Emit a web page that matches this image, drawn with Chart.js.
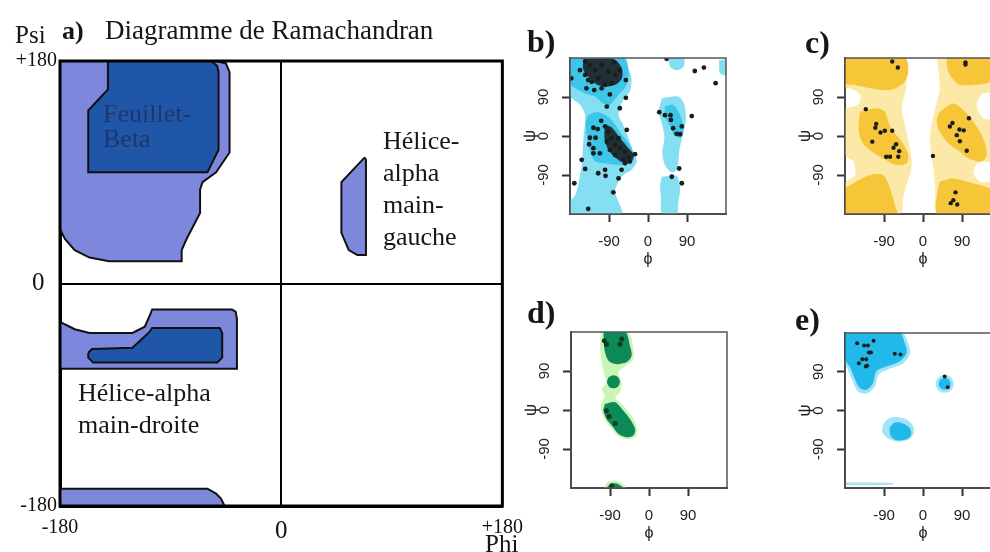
<!DOCTYPE html>
<html>
<head>
<meta charset="utf-8">
<script src="https://cdn.jsdelivr.net/npm/chart.js@4.4.1/dist/chart.umd.min.js"></script>
<style>
html,body{margin:0;padding:0;background:#fff;overflow:hidden;}
#page{position:relative;width:990px;height:552px;overflow:hidden;background:#fff;}
canvas{position:absolute;}
.t{position:absolute;font-family:"Liberation Serif","Times New Roman",serif;color:#161616;white-space:nowrap;line-height:1;}
</style>
</head>
<body>
<div id="page">
  <canvas id="cA" width="533" height="552" style="left:0;top:0"></canvas>
  <canvas id="cB" width="220" height="219" style="left:520px;top:50px"></canvas>
  <canvas id="cC" width="220" height="219" style="left:795px;top:50px"></canvas>
  <canvas id="cD" width="220" height="219" style="left:521px;top:324px"></canvas>
  <canvas id="cE" width="220" height="219" style="left:795px;top:324px"></canvas>

  <div class="t" style="left:15px;top:22px;font-size:25px">Psi</div>
  <div class="t" style="left:62px;top:18px;font-size:26px;font-weight:bold">a)</div>
  <div class="t" style="left:105px;top:17px;font-size:27px">Diagramme de Ramachandran</div>
  <div class="t" style="left:103px;top:101px;font-size:26px;color:#21366c;line-height:25px">Feuillet-<br>Beta</div>
  <div class="t" style="left:383px;top:125px;font-size:26px;line-height:32px">Hélice-<br>alpha<br>main-<br>gauche</div>
  <div class="t" style="left:78px;top:377px;font-size:26px;line-height:32px">Hélice-alpha<br>main-droite</div>
  <div class="t" style="left:485px;top:531px;font-size:25px">Phi</div>

  <div class="t" style="left:527px;top:25px;font-size:32px;font-weight:bold">b)</div>
  <div class="t" style="left:805px;top:26px;font-size:32px;font-weight:bold">c)</div>
  <div class="t" style="left:527px;top:296px;font-size:32px;font-weight:bold">d)</div>
  <div class="t" style="left:795px;top:303px;font-size:32px;font-weight:bold">e)</div>
</div>
<script>
// ---- data (phi, psi in degrees) ----
const phiTicks = [-180, 0, 180];
const psiTicks = [-180, 0, 180];
const smallTicks = [-90, 0, 90];

// a) schematic regions
const betaOuter = [[-180,180],[-53,180],[-45,178],[-42,171],[-42,106],[-53,90],[-64,82],[-66,76],[-66,57],[-77,36],[-81,27],[-81,18],[-140,18],[-156,21],[-168,27],[-176,36],[-180,44]];
const betaCore = [[-141,180],[-57,180],[-52,176],[-51,171],[-51,108],[-60,90],[-157,90],[-157,140],[-141,157]];
const betaBottom = [[-180,-166],[-60,-166],[-53,-170],[-49,-174],[-46,-180],[-180,-180]];
const alphaROuter = [[-180,-31],[-168,-37],[-156,-40],[-121,-40],[-111,-35],[-107,-26],[-105,-21],[-40,-21],[-37,-23],[-36,-29],[-36,-69],[-180,-69]];
const alphaRCore = [[-157,-56],[-154,-53],[-121,-52],[-107,-39],[-105,-36],[-50,-36],[-48,-40],[-48,-60],[-52,-64],[-153,-64],[-157,-60]];
const alphaLeft = [[68,102],[49,82],[49,41],[55,27],[62,23],[69,23],[69,100]];

// b) all residues
const bLightLeft = [[-180,180],[-53,180],[-45,156],[-38,133],[-42,102],[-57,83],[-65,64],[-68,48],[-57,25],[-45,-5],[-34,-36],[-26,-59],[-38,-78],[-57,-90],[-68,-105],[-76,-128],[-68,-152],[-61,-180],[-180,-180],[-180,-152],[-168,-136],[-161,-113],[-153,-67],[-149,-5],[-145,48],[-157,72],[-176,87],[-180,95]];
const bLightRight = [[32,87],[70,91],[84,72],[87,33],[79,-2],[72,-36],[68,-75],[55,-84],[39,-67],[33,-36],[38,-5],[33,25],[25,56]];
const bLightLow = [[32,-94],[66,-92],[74,-121],[70,-152],[66,-180],[33,-180],[30,-144],[28,-113]];
const bLightTop = [[47,180],[82,180],[82,160],[66,152],[51,160]];
const bLightEdge = [[164,175],[180,175],[180,141],[166,145]];
const bDarkTop = [[-180,180],[-57,180],[-45,148],[-49,118],[-68,95],[-88,72],[-103,75],[-122,91],[-145,98],[-168,110],[-180,122]];
const bDarkMid = [[-138,48],[-115,55],[-88,41],[-65,10],[-38,-28],[-34,-59],[-61,-67],[-99,-63],[-122,-58],[-134,-36],[-142,6],[-144,33]];
const bDarkRight = [[39,68],[58,72],[74,48],[82,18],[78,-2],[62,0],[51,22],[39,45]];
const bDenseTop = [[-148,178],[-82,178],[-62,160],[-60,134],[-76,118],[-100,114],[-120,120],[-138,136],[-150,155]];
const bDenseMid = [[-100,26],[-84,20],[-66,-3],[-47,-26],[-33,-44],[-40,-61],[-57,-61],[-75,-50],[-90,-34],[-100,-9]];
const bDots = [[-78,170],[-51,129],[-51,88],[-65,64],[-95,68],[-49,14],[-30,-42],[-88,96],[-124,106],[-142,110],[-177,133],
  [-108,35],[-126,19],[-116,16],[-134,-4],[-121,-4],[-136,-19],[-126,-28],[-111,-40],[-126,-40],[-153,-55],[-145,-76],
  [-115,-86],[-99,-78],[-98,-92],[-61,-78],[-68,-98],[-80,-130],[-170,-109],[-138,-168],[43,178],[108,150],[129,158],
  [156,122],[26,55],[52,48],[39,48],[101,46],[53,37],[78,22],[58,18],[74,4],[66,5],[72,-75],[55,-94],[78,-109],
  [-145,172],[-134,164],[-122,152],[-107,164],[-92,148],[-76,141],[-115,133],[-130,125],[-99,118],[-145,141],[-157,152],
  [-65,152],[-84,122],[-107,110],[-138,129],[-99,22],[-92,10],[-84,-5],[-76,-21],[-65,-28],[-53,-36],[-45,-48],[-57,-55],
  [-76,-44],[-88,-32],[-95,-13],[-68,-5],[-42,-59],[-53,-63]];

// c) glycine
const cLightLeft = [[-180,180],[-45,180],[-38,118],[-49,64],[-38,10],[-26,-67],[-45,-136],[-53,-180],[-180,-180],[-180,-109],[-157,-90],[-161,-59],[-180,-44],[-180,60],[-149,72],[-145,95],[-168,110],[-180,110]];
const cLightRight = [[32,180],[180,180],[180,102],[139,98],[124,72],[139,41],[180,33],[180,-59],[132,-59],[116,-82],[132,-105],[180,-109],[180,-180],[35,-180],[28,-121],[24,-75],[16,-5],[28,64],[39,110]];
const cDarkTopL = [[-180,180],[-42,180],[-34,148],[-45,122],[-76,106],[-122,110],[-161,118],[-180,122]];
const cDarkMidL = [[-145,56],[-107,64],[-88,56],[-76,22],[-49,-13],[-34,-44],[-38,-63],[-61,-67],[-92,-52],[-118,-36],[-141,-13],[-149,18]];
const cDarkLowL = [[-180,-121],[-161,-109],[-122,-90],[-92,-90],[-76,-121],[-65,-159],[-61,-180],[-180,-180]];
const cDarkTopR = [[55,180],[180,180],[180,141],[147,122],[116,118],[85,118],[62,141],[55,164]];
const cDarkMidR = [[39,56],[70,75],[93,60],[116,33],[139,-5],[147,-44],[135,-59],[105,-52],[85,-36],[55,-13],[35,18],[32,41]];
const cDarkLowR = [[39,-105],[70,-98],[116,-109],[155,-121],[180,-136],[180,-180],[35,-180],[32,-136]];
const cDots = [[-71,172],[-58,158],[-132,62],[-108,28],[-110,19],[-98,8],[-88,12],[-71,12],[-117,-13],[-62,-19],[-68,-27],
  [-55,-35],[-85,-48],[-76,-48],[-57,-48],[23,-46],[98,170],[98,165],[106,41],[62,22],[68,30],[84,15],[94,13],[78,2],
  [85,-12],[101,-34],[75,-130],[70,-148],[64,-155],[79,-158]];

// d) proline
const dLight = [[-111,180],[-49,180],[-36,141],[-38,114],[-59,98],[-71,87],[-63,60],[-67,41],[-78,29],[-67,18],[-52,2],[-32,-28],[-28,-59],[-44,-67],[-67,-63],[-86,-44],[-105,-17],[-111,10],[-102,33],[-109,48],[-98,64],[-105,87],[-109,110],[-113,148]];
const dDarkTop = [[-105,180],[-55,180],[-44,148],[-40,125],[-52,110],[-78,106],[-94,114],[-103,140]];
const dDarkMid = [[-102,14],[-78,18],[-59,-2],[-44,-21],[-32,-44],[-36,-59],[-52,-63],[-71,-55],[-86,-36],[-98,-21],[-105,-2]];
const dLightLow = [[-104,-180],[-96,-167],[-78,-163],[-62,-170],[-54,-180]];
const dDarkLow = [[-98,-180],[-90,-172],[-78,-169],[-66,-174],[-60,-180]];
const dSpot = [[-82,65]];
const dShade = [[-103,160],[-98,152],[-63,164],[-67,152],[-98,-2],[-92,-15],[-78,-31],[-86,-175]];

// e) pre-proline
const eLightTL = [[-180,180],[-48,180],[-35,158],[-30,132],[-48,108],[-80,96],[-102,84],[-110,58],[-128,40],[-150,44],[-163,70],[-175,98],[-180,110]];
const eDarkTL = [[-180,180],[-54,180],[-42,156],[-38,133],[-54,114],[-85,102],[-108,91],[-115,64],[-131,48],[-146,52],[-158,75],[-169,102],[-180,118]];
const eMidLight = [[-92,-32],[-81,-19],[-62,-15],[-38,-21],[-23,-36],[-22,-55],[-35,-68],[-58,-72],[-81,-65],[-94,-50]];
const eMidDark = [[-77,-40],[-65,-28],[-46,-30],[-31,-40],[-27,-55],[-38,-67],[-62,-69],[-75,-58]];
const eSpot = [[50,62]];
const eStrip = [[-178,-167],[-75,-168],[-68,-172],[-178,-173]];
const eDots = [[-152,156],[-136,151],[-127,151],[-114,162],[-125,135],[-120,135],[-140,119],[-131,119],[-148,110],
  [-132,102],[-129,104],[-65,132],[-52,130],[50,79],[57,54]];

// ---- helpers ----
const serif = '"Liberation Serif", "Times New Roman", serif';
const sans = '"Liberation Sans", Arial, sans-serif';
const pts = a => a.map(([x,y]) => ({x, y}));
const ring = a => pts([...a, a[0]]);

function area(a, color, extra){
  return Object.assign({type:'line', data:ring(a), fill:'shape', backgroundColor:color, borderColor:color,
    borderWidth:0, pointRadius:0, tension:0.3}, extra||{});
}
function dots(a, color, r){
  return {type:'scatter', data:pts(a), showLine:false, pointRadius:r, pointBorderWidth:0,
    pointBackgroundColor:color, backgroundColor:color, borderColor:color};
}
// later entries on top
function layer(sets){ sets.forEach((d,i)=>{ d.order = sets.length - i; }); return sets; }

function framePlugin(w, c){
  return {id:'frame', afterDatasetsDraw(ch){
    const a = ch.chartArea, x = ch.ctx;
    x.save(); x.lineWidth = w; x.strokeStyle = c;
    x.strokeRect(a.left, a.top, a.right - a.left, a.bottom - a.top);
    x.restore();
  }};
}
// psi labels drawn turned, like the small plots
const rotY = {id:'rotY', afterDraw(ch){
  const s = ch.scales.y, x = ch.ctx;
  x.save(); x.font = '15px ' + sans; x.fillStyle = '#222'; x.textAlign = 'center'; x.textBaseline = 'middle';
  s.ticks.forEach(t => {
    x.save(); x.translate(s.right - 26, s.getPixelForValue(t.value)); x.rotate(-Math.PI/2);
    x.fillText(String(t.value), 0, 0); x.restore();
  });
  x.restore();
}};

const signed = v => v > 0 ? '+' + v : String(v);
const bigZero = c => ({family:serif, size: c.tick && c.tick.value === 0 ? 25 : 20});
const zeroLine = c => c.tick && c.tick.value === 0 ? '#000' : 'rgba(0,0,0,0)';

// ---- a) main diagram ----
const edge = {borderColor:'#111', borderWidth:2, tension:0};
const mainLight = '#7d87dc', mainDark = '#1f56a8';
new Chart(document.getElementById('cA'), {
  type:'scatter',
  data:{datasets: layer([
    area(betaOuter, mainLight, edge), area(betaCore, mainDark, edge), area(betaBottom, mainLight, edge),
    area(alphaROuter, mainLight, edge), area(alphaRCore, mainDark, edge), area(alphaLeft, mainLight, edge)
  ])},
  options:{
    responsive:false, animation:false, events:[],
    layout:{padding:{top:61, right:26, bottom:0, left:0}},
    plugins:{legend:{display:false}, tooltip:{enabled:false}},
    scales:{
      x:{type:'linear', min:-180, max:180,
        afterBuildTicks:s => { s.ticks = phiTicks.map(v => ({value:v})); },
        afterFit:s => { s.height = 46; },
        ticks:{callback:signed, color:'#111', padding:10, maxRotation:0, autoSkip:false, font:bigZero},
        grid:{color:zeroLine, lineWidth:2, drawTicks:false},
        border:{color:'#000', width:3}},
      y:{type:'linear', min:-180, max:180,
        afterBuildTicks:s => { s.ticks = psiTicks.map(v => ({value:v})); },
        afterFit:s => { s.width = 60; },
        ticks:{callback:v => v === 0 ? '0\u2002' : signed(v), color:'#111', padding:3, autoSkip:false, font:bigZero},
        grid:{color:zeroLine, lineWidth:2, drawTicks:false},
        border:{color:'#000', width:3}}
    }
  },
  plugins:[framePlugin(3, '#000')]
});

// ---- small plots ----
function panel(id, sets){
  return new Chart(document.getElementById(id), {
    type:'scatter',
    data:{datasets: layer(sets)},
    options:{
      responsive:false, animation:false, events:[],
      layout:{padding:{top:8, right:14, bottom:0, left:0}},
      plugins:{legend:{display:false}, tooltip:{enabled:false}},
      scales:{
        x:{type:'linear', min:-180, max:180,
          afterBuildTicks:s => { s.ticks = smallTicks.map(v => ({value:v})); },
          afterFit:s => { s.height = 55; },
          ticks:{color:'#222', padding:11, maxRotation:0, autoSkip:false, font:{family:sans, size:15}},
          grid:{drawOnChartArea:false, tickLength:8, tickWidth:2, tickColor:'#333'},
          border:{color:'#333', width:2},
          title:{display:true, text:'ϕ', color:'#222', padding:0, font:{family:sans, size:16}}},
        y:{type:'linear', min:-180, max:180,
          afterBuildTicks:s => { s.ticks = smallTicks.map(v => ({value:v})); },
          afterFit:s => { s.width = 50; },
          ticks:{display:false},
          grid:{drawOnChartArea:false, tickLength:8, tickWidth:2, tickColor:'#333'},
          border:{color:'#333', width:2},
          title:{display:true, text:'ψ', color:'#222', padding:0, font:{family:sans, size:17}}}
      }
    },
    plugins:[framePlugin(1.5, '#555'), rotY]
  });
}

const bL = '#84dff2', bD = '#3cc6e8', ink = '#1c1c1c';
panel('cB', [
  area(bLightLeft, bL), area(bLightRight, bL), area(bLightLow, bL), area(bLightTop, bL), area(bLightEdge, bL),
  area(bDarkTop, bD), area(bDarkMid, bD), area(bDarkRight, bD),
  area(bDenseTop, 'rgba(28,28,28,0.88)'), area(bDenseMid, 'rgba(28,28,28,0.88)'),
  dots(bDots, ink, 2.4)
]);

const cL = '#fce9a8', cD = '#f7c638';
panel('cC', [
  area(cLightLeft, cL), area(cLightRight, cL),
  area(cDarkTopL, cD), area(cDarkMidL, cD), area(cDarkLowL, cD),
  area(cDarkTopR, cD), area(cDarkMidR, cD), area(cDarkLowR, cD),
  dots(cDots, ink, 2.2)
]);

const dL = '#c9f5b5', dD = '#0d8a57';
panel('cD', [
  area(dLight, dL), area(dLightLow, dL),
  area(dDarkTop, dD), area(dDarkMid, dD), area(dDarkLow, dD),
  dots(dSpot, dD, 6.5),
  dots(dShade, '#0a3b25', 2.5)
]);

const eL = '#a3e3f6', eD = '#20b9ea';
panel('cE', [
  area(eLightTL, eL), area(eMidLight, eL), area(eStrip, eL), dots(eSpot, eL, 9),
  area(eDarkTL, eD), area(eMidDark, eD), dots(eSpot, eD, 6),
  dots(eDots, ink, 2)
]);
</script>
</body>
</html>
